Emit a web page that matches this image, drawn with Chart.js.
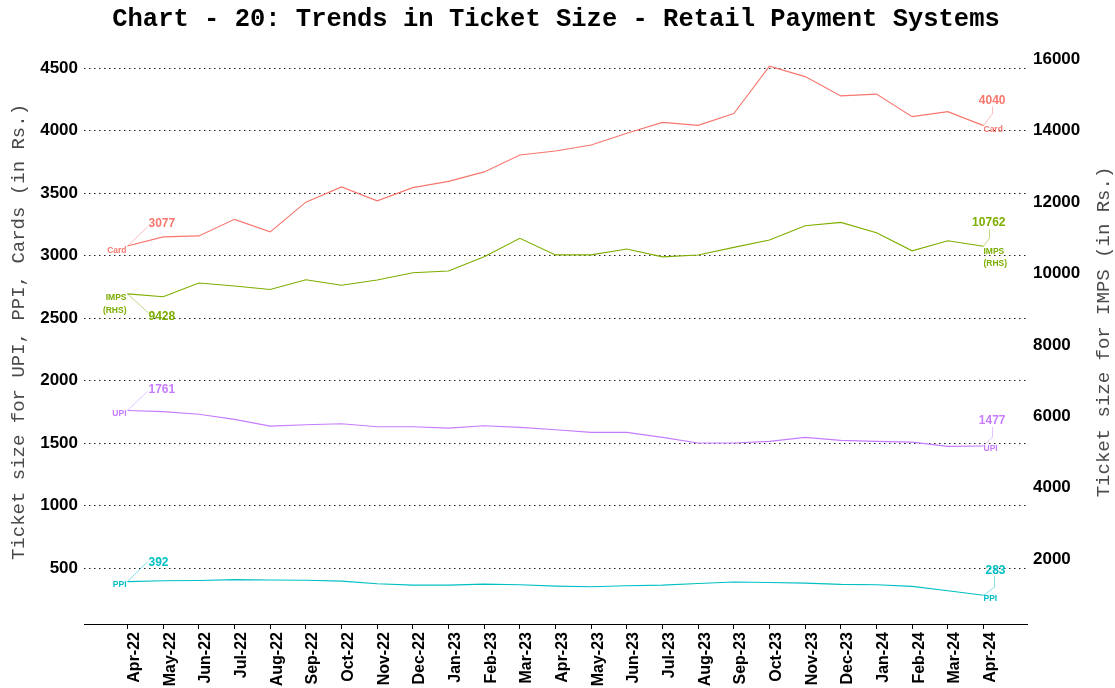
<!DOCTYPE html>
<html>
<head>
<meta charset="utf-8">
<script src="https://cdn.jsdelivr.net/npm/chart.js@4.4.1/dist/chart.umd.min.js"></script>
<style>
    html, body { margin: 0; padding: 0; background: #fff; }
    #wrap { width: 1115px; height: 688px; }
</style>
</head>
<body>
<div id="wrap"><canvas id="chart" width="1115" height="688"></canvas></div>
<script>
// ===============================
// DATA
// ===============================
const months = [
    "Apr-22", "May-22", "Jun-22", "Jul-22", "Aug-22", "Sep-22", "Oct-22", "Nov-22", "Dec-22",
    "Jan-23", "Feb-23", "Mar-23", "Apr-23", "May-23", "Jun-23", "Jul-23", "Aug-23", "Sep-23",
    "Oct-23", "Nov-23", "Dec-23", "Jan-24", "Feb-24", "Mar-24", "Apr-24"
];

const card = [3077, 3150, 3158, 3290, 3190, 3428, 3550, 3438, 3544, 3594, 3670, 3805, 3837,
    3885, 3979, 4066, 4042, 4136, 4516, 4432, 4278, 4292, 4112, 4152, 4040];
const imps = [9428, 9349, 9735, 9650, 9550, 9824, 9670, 9818, 10020, 10070, 10470, 10985, 10520,
    10522, 10685, 10466, 10516, 10730, 10935, 11338, 11430, 11142, 10634, 10918, 10762];
const upi = [1761, 1752, 1731, 1690, 1636, 1647, 1655, 1631, 1631, 1620, 1639, 1626, 1607,
    1586, 1586, 1546, 1501, 1501, 1514, 1546, 1522, 1514, 1508, 1474, 1477];
const ppi = [392, 399, 401, 408, 405, 403, 396, 375, 364, 364, 372, 367, 356,
    351, 359, 364, 377, 389, 385, 380, 370, 367, 354, 319, 283];

const leftTicks = [500, 1000, 1500, 2000, 2500, 3000, 3500, 4000, 4500];
const rightTicks = [2000, 4000, 6000, 8000, 10000, 12000, 14000, 16000];

// IMPS is on the secondary axis: RHS = 3.5 x LHS
const RHS_RATIO = 3.5;
const LEFT_MIN = 53;
const LEFT_MAX = 4725;

const COLORS = { Card: "#F8766D", IMPS: "#7CAE00", UPI: "#C77CFF", PPI: "#00BFC4" };
const SANS = '"Liberation Sans", Arial, sans-serif';
const MONO = '"Courier New", "Liberation Mono", monospace';

// label placement for the start / end annotations (pixel offsets from the point)
const LABELS = {
    Card: {
        name: ["Card"],
        start: { nameDy: [5], valDy: -22, seg: [20, -19] },
        end: { nameDy: [4], valDy: -25, seg: [[9, -12], [9, -19]] }
    },
    IMPS: {
        name: ["IMPS", "(RHS)"],
        start: { nameDy: [4, 17], valDy: 23, seg: [21, 19] },
        end: { nameDy: [5, 17], valDy: -24, seg: [[6, -8], [6, -17]] }
    },
    UPI: {
        name: ["UPI"],
        start: { nameDy: [3], valDy: -21, seg: [20, -19] },
        end: { nameDy: [3], valDy: -25, seg: [[9, -9], [9, -19]] }
    },
    PPI: {
        name: ["PPI"],
        start: { nameDy: [3], valDy: -19, seg: [20, -20] },
        end: { nameDy: [3], valDy: -25, seg: [[11, -8], [11, -19]] }
    }
};

const toXY = (arr) => arr.map((v, i) => ({ x: i, y: v }));

const mkSet = (label, data, axis) => ({
    label,
    data: toXY(data),
    yAxisID: axis,
    borderColor: COLORS[label],
    backgroundColor: COLORS[label],
    borderWidth: 1.1,
    pointRadius: 0,
    tension: 0,
    fill: false
});

// ===============================
// TEXT + ANNOTATIONS PLUGIN
// ===============================
const decor = {
    id: "decor",
    afterDatasetsDraw(chart) {
        const { ctx } = chart;

        chart.data.datasets.forEach((ds, di) => {
            const meta = chart.getDatasetMeta(di);
            const cfg = LABELS[ds.label];
            const col = COLORS[ds.label];
            const pts = meta.data;
            const first = pts[0];
            const last = pts[pts.length - 1];
            const vals = ds.data;

            ctx.save();
            ctx.strokeStyle = col;
            ctx.globalAlpha = 0.6;
            ctx.lineWidth = 0.8;
            // start segment
            ctx.beginPath();
            ctx.moveTo(first.x, first.y);
            ctx.lineTo(first.x + cfg.start.seg[0], first.y + cfg.start.seg[1]);
            ctx.stroke();
            // end segment
            ctx.beginPath();
            ctx.moveTo(last.x, last.y);
            cfg.end.seg.forEach(([dx, dy]) => ctx.lineTo(last.x + dx, last.y + dy));
            ctx.stroke();
            ctx.restore();

            ctx.save();
            ctx.fillStyle = col;
            ctx.textBaseline = "middle";

            // start labels
            ctx.font = `bold 8.5px ${SANS}`;
            ctx.textAlign = "right";
            cfg.name.forEach((t, k) => ctx.fillText(t, first.x - 1, first.y + cfg.start.nameDy[k]));
            ctx.font = `bold 12px ${SANS}`;
            ctx.textAlign = "left";
            ctx.fillText(String(vals[0].y), first.x + 21, first.y + cfg.start.valDy);

            // end labels
            ctx.font = `bold 8.5px ${SANS}`;
            ctx.textAlign = "left";
            cfg.name.forEach((t, k) => ctx.fillText(t, last.x, last.y + cfg.end.nameDy[k]));
            ctx.font = `bold 12px ${SANS}`;
            ctx.textAlign = "right";
            ctx.fillText(String(vals[vals.length - 1].y), last.x + 22, last.y + cfg.end.valDy);
            ctx.restore();
        });

        // title + axis titles
        const midY = (chart.chartArea.top + chart.chartArea.bottom) / 2;
        ctx.save();
        ctx.fillStyle = "#000";
        ctx.textAlign = "center";
        ctx.textBaseline = "middle";
        ctx.font = `bold 25.5px ${MONO}`;
        ctx.fillText("Chart - 20: Trends in Ticket Size - Retail Payment Systems", 556, 20);

        ctx.fillStyle = "#4a4a4a";
        ctx.font = `19px ${MONO}`;
        ctx.save();
        ctx.translate(19, midY);
        ctx.rotate(-Math.PI / 2);
        ctx.fillText("Ticket size for UPI, PPI, Cards (in Rs.)", 0, 0);
        ctx.restore();
        ctx.save();
        ctx.translate(1104, midY);
        ctx.rotate(-Math.PI / 2);
        ctx.fillText("Ticket size for IMPS (in Rs.)", 0, 0);
        ctx.restore();
        ctx.restore();
    }
};

// ===============================
// CHART
// ===============================
const tickFont = { family: SANS, size: 17, weight: "bold" };

new Chart(document.getElementById("chart"), {
    type: "line",
    data: {
        datasets: [
            mkSet("Card", card, "y"),
            mkSet("IMPS", imps, "y1"),
            mkSet("UPI", upi, "y"),
            mkSet("PPI", ppi, "y")
        ]
    },
    options: {
        responsive: false,
        animation: false,
        layout: { padding: { top: 40, left: 0, right: 0, bottom: 0 } },
        plugins: {
            legend: { display: false },
            tooltip: { enabled: false },
            title: { display: false }
        },
        scales: {
            x: {
                type: "linear",
                min: -1.22,
                max: 25.22,
                afterBuildTicks: (s) => { s.ticks = months.map((m, i) => ({ value: i })); },
                afterFit: (s) => { s.height = 64; },
                ticks: {
                    autoSkip: false,
                    minRotation: 90,
                    maxRotation: 90,
                    padding: 3,
                    labelOffset: 7,
                    color: "#000",
                    font: { family: SANS, size: 16, weight: "bold" },
                    callback: (v) => months[v] ?? ""
                },
                grid: { drawOnChartArea: false, drawTicks: true, tickLength: 5, color: "#000" },
                border: { display: true, color: "#000", width: 1 }
            },
            y: {
                position: "left",
                min: LEFT_MIN,
                max: LEFT_MAX,
                afterBuildTicks: (s) => { s.ticks = leftTicks.map((v) => ({ value: v })); },
                afterFit: (s) => { s.width = 84; },
                ticks: { padding: 6, color: "#000", font: tickFont, callback: (v) => String(v) },
                grid: { drawTicks: false, color: "#222", lineWidth: 1 },
                border: { display: false, dash: [1.5, 3.5] }
            },
            y1: {
                position: "right",
                min: LEFT_MIN * RHS_RATIO,
                max: LEFT_MAX * RHS_RATIO,
                afterBuildTicks: (s) => { s.ticks = rightTicks.map((v) => ({ value: v })); },
                afterFit: (s) => { s.width = 88; },
                ticks: { padding: 6, color: "#000", font: tickFont, callback: (v) => String(v) },
                grid: { display: false, drawTicks: false },
                border: { display: false }
            }
        }
    },
    plugins: [decor]
});
</script>
</body>
</html>
